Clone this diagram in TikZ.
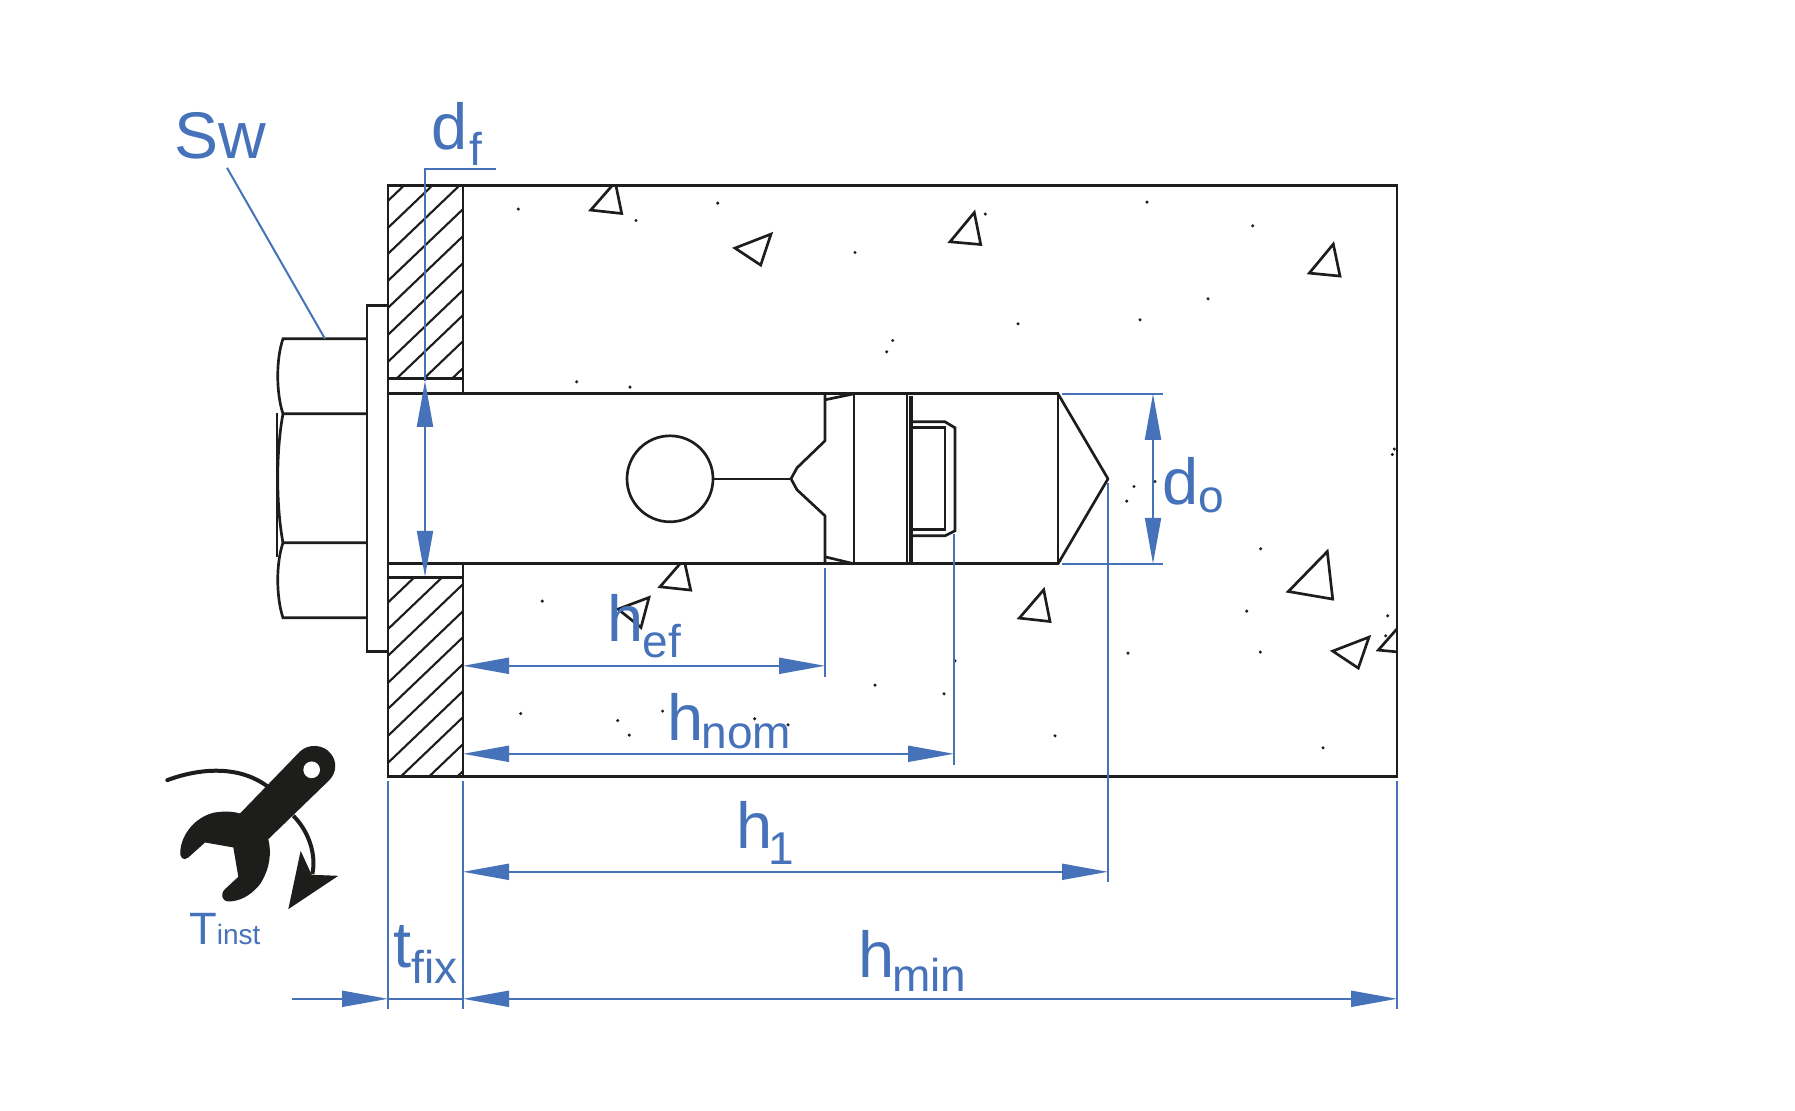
\documentclass[tikz,border=0pt]{standalone}
\usepackage{fontspec}
\setmainfont{Liberation Sans}
\usetikzlibrary{arrows.meta}
\definecolor{inkblack}{HTML}{1D1D1B}
\definecolor{dimblue}{HTML}{4672BA}
\newcommand{\dimlabel}[3]{{\fontsize{48.75}{50}\selectfont #1}\raisebox{-#3pt}{\fontsize{34.5}{36}\selectfont #2}}
\tikzset{
  x=0.75pt,y=-0.75pt,
  outline/.style={draw=inkblack,line width=2pt,line join=miter},
  thinline/.style={draw=inkblack,line width=1.5pt,line cap=butt},
  hatchline/.style={draw=inkblack,line width=1.6pt},
  grain/.style={fill=inkblack},
  leader/.style={draw=dimblue,line width=1.5pt},
  dimline/.style={draw=dimblue,line width=1.5pt,
    {Triangle[length=34.5pt,width=12pt,fill=dimblue]}-{Triangle[length=34.5pt,width=12pt,fill=dimblue]}},
  dimend/.style={draw=dimblue,line width=1.5pt,
    -{Triangle[length=34.5pt,width=12pt,fill=dimblue]}},
  dimtext/.style={text=dimblue,inner sep=0pt,anchor=base west},
}
\begin{document}
\begin{tikzpicture}
\useasboundingbox[fill=white] (0,-0.8) rectangle (1795,1109.2);

% hatching of the fixture
\begin{scope}
  \clip (388,185) rectangle (463,378);
  \foreach \yy in {200,227,253,280,307,334,361,386,412,439}
    \draw[hatchline] (388,\yy) -- (478,\yy-86);
\end{scope}
\begin{scope}
  \clip (388,577) rectangle (463,776);
  \foreach \yy in {601.7,628.3,655,682,708,735,762,788,815,842}
    \draw[hatchline] (388,\yy) -- (478,\yy-86);
\end{scope}

% grains of the concrete
\foreach \px/\py in {717.7/202.3,636/219.7,855/251.7,985.3/213.3,892.7/339.7,886.7/351,576.7/381,630/386.3,
  1147/201.3,1252.7/225,1208/298,1140/319,1018/323,1134/485.7,1126.7/500.3,1155/480.7,1394.3/448.3,1392.3/453.7,
  1260.7/548,1246.7/610.3,1387.7/615,1385.7/635,1260.3/651.3,1128/652.3,518.3/208.3,542.3/600.3,520.7/712.7,
  617.7/719.7,629.3/734.3,662.6/710.3,754.6/718,788/724,875/684.3,944/693,955/660,1055/735,1323/747}
  \fill[grain] (\px,\py) circle (1.7);
\draw[outline] (612,185) -- (590.7,209.3) -- (621.7,212.7) -- (616,185);
\draw[outline] (771,233.3) -- (735,247.3) -- (760.7,264.3) -- cycle;
\draw[outline] (974.3,211.7) -- (950,241) -- (980.7,243.7) -- cycle;
\draw[outline] (1333.3,243.3) -- (1309.3,272.3) -- (1340,275.3) -- cycle;
\draw[outline] (1327.3,550.7) -- (1288.3,590.7) -- (1332.7,598.3) -- cycle;
\draw[outline] (1043.7,589) -- (1019.3,617.3) -- (1050,620.7) -- cycle;
\draw[outline] (1369,636.3) -- (1332.7,650.3) -- (1358.3,667.3) -- cycle;
\draw[outline] (1396.7,628.3) -- (1378.3,649.3) -- (1396.7,651);
\draw[outline] (680,563) -- (660,586) -- (690.7,589.3) -- (685,563);
\draw[outline] (649,596.7) -- (618,608.3) -- (641,626.7) -- cycle;

% block, fixture and hole
\draw[outline] (388,185) rectangle (1397,776);
\draw[outline] (463,185) -- (463,378);
\draw[outline] (463,577) -- (463,776);
\draw[outline] (388,378) -- (463,378) -- (463,393);
\draw[outline] (388,577) -- (463,577) -- (463,563);
\draw[outline] (388,393) -- (1058,393) -- (1058,563) -- (388,563);
\draw[outline,line join=round] (1058,393) -- (1108,478) -- (1058,563);

% washer and hexagon head
\draw[outline] (388,305) -- (367,305) -- (367,651) -- (388,651);
\draw[outline] (367,338) -- (283,338) .. controls (276,358) and (276,392) .. (283,413) -- (367,413);
\draw[outline] (367,542) -- (283,542) .. controls (276,562) and (276,596) .. (283,617) -- (367,617);
\draw[outline] (283,413) .. controls (276,450) and (276,505) .. (283,542);
\draw[outline] (277,412) -- (277,556);

% anchor
\draw[outline] (670,478) circle (43);
\draw[thinline] (713,478) -- (791,478);
\draw[outline,line join=round] (825,393) -- (825,440) -- (797,467) -- (791,478) -- (797,489) -- (825,515) -- (825,563);
\draw[outline] (825,399) -- (854,393);
\draw[outline] (825,556) -- (854,563);
\draw[outline] (854,393) -- (854,563);
\draw[thinline] (907,393) -- (907,563);
\draw[draw=inkblack,line width=2.6pt] (911,395) -- (911,561);
\draw[outline] (911,421) -- (945,421) -- (955,427) -- (955,530) -- (945,535) -- (911,535);
\draw[outline] (911,427) -- (945,427) -- (945,529) -- (911,529);

% wrench with its rotation arrow
\begin{scope}[shift={(150,740)},x=0.25pt,y=-0.25pt]
  \draw[draw=inkblack,line width=3pt,line cap=round] (52,118) .. controls (140,85) and (260,70) .. (350,135);
  \draw[draw=inkblack,line width=3pt] (430,225) .. controls (475,270) and (500,340) .. (487,400);
  \fill[inkblack] (452,330) -- (485,402) -- (565,405) -- (415,505) -- cycle;
  \fill[inkblack]
    (450,32) .. controls (475,8) and (520,10) .. (542,38)
    .. controls (562,62) and (560,95) .. (538,118)
    -- (355,295) .. controls (365,335) and (360,385) .. (330,430)
    .. controls (300,468) and (265,482) .. (235,482)
    .. controls (215,480) and (210,460) .. (225,445)
    -- (265,408) -- (250,320) -- (165,305) -- (115,350)
    .. controls (100,362) and (88,350) .. (91,330)
    .. controls (95,280) and (135,230) .. (190,216)
    .. controls (220,210) and (250,212) .. (270,218) -- cycle;
  \fill[white] (485,87) circle (25);
\end{scope}

% dimension lines
\coordinate (wallL) at (388,998);
\coordinate (wallR) at (463,998);
\coordinate (blockR) at (1397,998);
\coordinate (instStart) at (292,998);
\coordinate (h1End) at (1108,871);
\draw[leader] (388,780) -- (388,1008);
\draw[leader] (463,780) -- (463,1008);
\draw[leader] (1397,780) -- (1397,1008);
\draw[leader] (1108,482) -- (1108,881);
\draw[leader] (825,567) -- (825,676);
\draw[leader] (954,533) -- (954,764);
\draw[leader] (227,167) -- (325,338);
\draw[leader] (496,168) -- (425,168) -- (425,380);
\draw[leader] (1062,393) -- (1163,393);
\draw[leader] (1062,563) -- (1163,563);

\draw[dimend] (instStart) -- (wallL);
\draw[leader] (wallL) -- (wallR);
\draw[dimline] (wallR) -- (blockR);
\draw[dimline] (463,871) -- (h1End);
\draw[dimline] (463,753) -- (954,753);
\draw[dimline] (463,665) -- (825,665);
\draw[dimline] (425,380) -- (425,576);
\draw[dimline] (1153,393) -- (1153,563);

% labels
\node[dimtext] (sw) at (174,158) {\fontsize{49.5}{50}\selectfont Sw};
\node[dimtext] (df) at (431.5,149) {\dimlabel{d}{\kern1pt f}{12}};
\node[dimtext] (do) at (1162.5,504) {\dimlabel{d}{o}{5.5}};
\node[dimtext] (hef) at (607,641) {\dimlabel{h}{\kern-0.6pt ef}{12}};
\node[dimtext] (hnom) at (667,740) {\dimlabel{h}{\kern-1.2pt nom}{5.5}};
\node[dimtext] (h1) at (736,848) {\dimlabel{h}{\kern-3pt 1}{11.5}};
\node[dimtext] (hmin) at (858,977) {\dimlabel{h}{\kern-1.5pt min}{10.5}};
\node[dimtext] (tfix) at (393,967) {\dimlabel{t}{fix}{11.5}};
\node[dimtext] (tinst) at (189,944) {{\fontsize{34}{36}\selectfont T}{\fontsize{21}{24}\selectfont inst}};
\end{tikzpicture}
\end{document}
